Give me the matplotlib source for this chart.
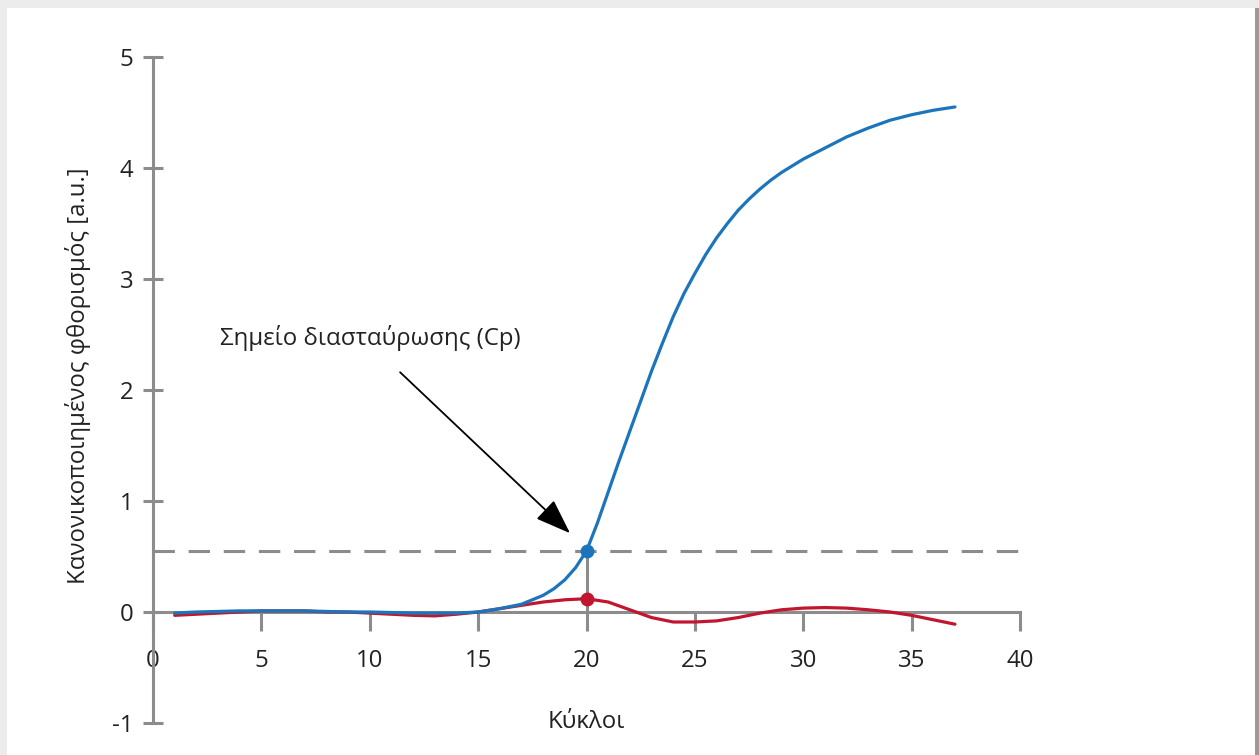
import matplotlib.pyplot as plt
from matplotlib.patches import Rectangle

plt.rcParams['font.family'] = ['Open Sans', 'DejaVu Sans']

# Δεδομένα (εκτίμηση από την εικόνα)
blue_x = [1, 2, 3, 4, 5, 6, 7, 8, 9, 10, 11, 12, 13, 14, 15, 16, 16.5, 17,
          17.5, 18, 18.5, 19, 19.5, 20, 20.5, 21, 21.5, 22, 22.5, 23, 23.5,
          24, 24.5, 25, 25.5, 26, 26.5, 27, 27.5, 28, 28.5, 29, 30, 31, 32,
          33, 34, 35, 36, 37]
blue_y = [-0.01, 0.0, 0.005, 0.01, 0.01, 0.01, 0.01, 0.005, 0.0, 0.0, -0.005,
          -0.01, -0.01, -0.01, 0.0, 0.03, 0.05, 0.07, 0.11, 0.15, 0.21, 0.29,
          0.4, 0.55, 0.8, 1.08, 1.36, 1.63, 1.9, 2.17, 2.42, 2.66, 2.87, 3.05,
          3.22, 3.37, 3.5, 3.62, 3.72, 3.81, 3.89, 3.96, 4.08, 4.18, 4.28,
          4.36, 4.43, 4.48, 4.52, 4.55]

red_x = list(range(1, 38))
red_y = [-0.03, -0.02, -0.01, 0.0, 0.01, 0.01, 0.01, 0.0, 0.0, -0.01, -0.02,
         -0.03, -0.035, -0.02, 0.0, 0.03, 0.06, 0.09, 0.11, 0.12, 0.09, 0.02,
         -0.05, -0.09, -0.09, -0.08, -0.05, -0.01, 0.02, 0.035, 0.04, 0.035,
         0.02, 0.0, -0.03, -0.07, -0.11]

cp_x = 20
cp_blue = 0.55
cp_red = 0.12
threshold = 0.55

x_ticks = [0, 5, 10, 15, 20, 25, 30, 35, 40]
y_ticks = [-1, 0, 1, 2, 3, 4, 5]

gray = '#8c8c8c'
blue = '#1c75bc'
red = '#c1162e'
txt = '#222222'
fs = 17.3

fig = plt.figure(figsize=(12.59, 7.55), dpi=100, facecolor='#ececec')
# πλαίσιο
fig.patches.append(Rectangle((7 / 1259, 0), 1248 / 1259, 747 / 755,
                             transform=fig.transFigure, facecolor='white',
                             edgecolor='none', zorder=-2))
fig.patches.append(Rectangle((1255 / 1259, 0), 4 / 1259, 747 / 755,
                             transform=fig.transFigure, facecolor='#9a9a9a',
                             edgecolor='none', zorder=-2))

ax = fig.add_axes([153 / 1259, 32 / 755, 867 / 1259, 666 / 755])
ax.set_zorder(1)
ax.patch.set_alpha(0)
ax.set_xlim(0, 40)
ax.set_ylim(-1, 5)

for s in ['top', 'right']:
    ax.spines[s].set_visible(False)
ax.spines['left'].set_position(('data', 0))
ax.spines['bottom'].set_position(('data', 0))
for s in ['left', 'bottom']:
    ax.spines[s].set_color(gray)
    ax.spines[s].set_linewidth(2.2)

ax.set_xticks(x_ticks)
ax.set_yticks(y_ticks)
ax.set_xticklabels([str(v) for v in x_ticks])
ax.set_yticklabels([str(v) for v in y_ticks])
ax.tick_params(axis='x', direction='out', length=14, width=2.2, color=gray,
               labelsize=fs, labelcolor=txt, pad=12.5)
ax.tick_params(axis='y', direction='inout', length=15, width=2.2, color=gray,
               labelsize=fs, labelcolor=txt, pad=6.5)

# οριζόντια γραμμή κατωφλίου
ax.plot([0, 40], [threshold, threshold], color=gray, lw=2.2,
        dashes=(7, 4.5), zorder=2)
# κατακόρυφη γραμμή στο Cp
ax.plot([cp_x, cp_x], [0, cp_blue], color=gray, lw=2.2, zorder=2)

ax.plot(red_x, red_y, color=red, lw=2.3, zorder=3, solid_capstyle='round',
        solid_joinstyle='round')
ax.plot(blue_x, blue_y, color=blue, lw=2.3, zorder=4, solid_capstyle='round',
        solid_joinstyle='round')
ax.plot([cp_x], [cp_blue], 'o', color=blue, ms=9, zorder=5)
ax.plot([cp_x], [cp_red], 'o', color=red, ms=9, zorder=5)

# βέλος και κείμενο
ax.annotate('', xy=(19.24, 0.71), xytext=(11.4, 2.16),
            arrowprops=dict(arrowstyle='-|>,head_length=1.1,head_width=0.4',
                            mutation_scale=20, color='black', lw=1.3,
                            shrinkA=0, shrinkB=0),
            zorder=6)
ax.text(3.1, 2.47, 'Σημείο διασταύρωσης (Cp)', fontsize=fs, color=txt,
        va='center', ha='left')

ax.text(20, -0.99, 'Κύκλοι', fontsize=fs, color=txt, ha='center', va='center')
ax.text(-3.46, 2.13, 'Κανονικοποιημένος φθορισμός [a.u.]', fontsize=fs,
        color=txt, ha='center', va='center', rotation=90, clip_on=False)

fig.savefig('out.png', dpi=100, facecolor=fig.get_facecolor())
